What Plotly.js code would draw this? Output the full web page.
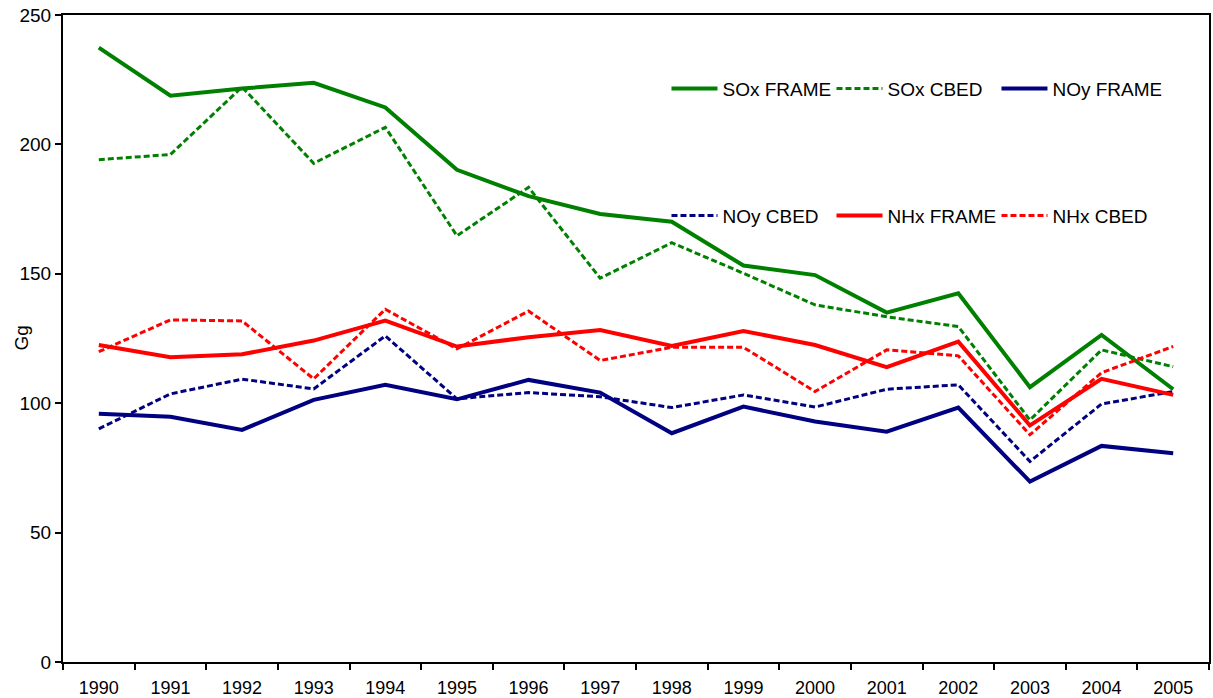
<!DOCTYPE html>
<html>
<head>
<meta charset="utf-8">
<script src="https://cdn.plot.ly/plotly-3.0.1.min.js"></script>
<style>html,body{margin:0;padding:0;background:#fff;}#chart{width:1213px;height:698px;}</style>
</head>
<body>
<div id="chart"></div>
<script>
var years = ['1990','1991','1992','1993','1994','1995','1996','1997','1998','1999','2000','2001','2002','2003','2004','2005'];
var soxFrame = [237.4, 218.8, 221.6, 223.8, 214.3, 190.2, 180.0, 173.1, 170.1, 153.2, 149.5, 135.0, 142.5, 106.2, 126.4, 105.4];
var soxCbed  = [194.1, 196.1, 222.2, 192.7, 206.6, 164.7, 183.4, 148.3, 162.0, 150.2, 138.0, 133.4, 129.6, 93.5, 120.6, 114.1];
var noyFrame = [95.9, 94.8, 89.7, 101.3, 107.1, 101.5, 109.0, 104.1, 88.4, 98.7, 92.9, 89.0, 98.3, 69.7, 83.5, 80.7];
var noyCbed  = [90.1, 103.6, 109.3, 105.5, 126.0, 101.7, 104.1, 102.5, 98.3, 103.2, 98.5, 105.4, 107.1, 77.5, 99.7, 104.5];
var nhxFrame = [122.5, 117.8, 118.9, 124.2, 131.9, 121.9, 125.5, 128.3, 122.1, 127.9, 122.5, 113.9, 123.8, 91.4, 109.4, 103.2];
var nhxCbed  = [119.9, 132.2, 131.8, 109.4, 136.3, 121.0, 135.6, 116.5, 121.6, 121.6, 104.5, 120.6, 118.3, 87.8, 111.8, 121.9];

var GREEN = '#008000', NAVY = '#000080', RED = '#FF0000';
var solidW = 4, dashW = 3, dashPat = '6px,3px';

function tr(name, y, color, dashed, legendId) {
  return {
    type: 'scatter', mode: 'lines', name: name, x: years, y: y,
    line: {color: color, width: dashed ? dashW : solidW, dash: dashed ? dashPat : 'solid'},
    legend: legendId
  };
}

var data = [
  tr('SOx FRAME', soxFrame, GREEN, false, 'legend'),
  tr('SOx CBED', soxCbed, GREEN, true, 'legend'),
  tr('NOy FRAME', noyFrame, NAVY, false, 'legend'),
  tr('NOy CBED', noyCbed, NAVY, true, 'legend2'),
  tr('NHx FRAME', nhxFrame, RED, false, 'legend2'),
  tr('NHx CBED', nhxCbed, RED, true, 'legend2')
];

var FONT = 'Liberation Sans, Arial, sans-serif';
var legendCommon = {
  orientation: 'h', xanchor: 'left', yanchor: 'middle',
  x: 0.5266, bgcolor: 'rgba(0,0,0,0)', borderwidth: 0,
  font: {family: FONT, size: 19, color: '#000'},
  entrywidth: 104, entrywidthmode: 'pixels', itemwidth: 46,
  traceorder: 'normal', tracegroupgap: 0
};

var layout = {
  width: 1213, height: 698,
  margin: {l: 63, r: 4, t: 15, b: 36, pad: 0, autoexpand: false},
  paper_bgcolor: '#ffffff', plot_bgcolor: '#ffffff',
  font: {family: FONT, color: '#000'},
  showlegend: true,
  legend: Object.assign({}, legendCommon, {y: 0.886}),
  legend2: Object.assign({}, legendCommon, {y: 0.69}),
  xaxis: {
    type: 'category', range: [-0.5, 15.5], automargin: false,
    showline: true, linecolor: '#000', linewidth: 2, mirror: true,
    ticks: 'outside', ticklen: 6, tickwidth: 2, tickcolor: '#000',
    tickson: 'boundaries', showgrid: false, zeroline: false,
    ticklabelstandoff: 8,
    tickfont: {family: FONT, size: 18, color: '#000'}
  },
  yaxis: {
    range: [0, 250], tickvals: [0, 50, 100, 150, 200, 250], automargin: false,
    showline: true, linecolor: '#000', linewidth: 2, mirror: true,
    ticks: 'outside', ticklen: 6, tickwidth: 2, tickcolor: '#000',
    showgrid: false, zeroline: false,
    tickfont: {family: FONT, size: 19, color: '#000'}
  },
  annotations: [{
    text: 'Gg', xref: 'paper', yref: 'paper', x: -42 / 1146, y: 0.5,
    xanchor: 'center', yanchor: 'middle', textangle: -90, showarrow: false,
    font: {family: FONT, size: 19, color: '#000'}
  }]
};

Plotly.newPlot('chart', data, layout, {displayModeBar: false, staticPlot: true});
</script>
</body>
</html>
